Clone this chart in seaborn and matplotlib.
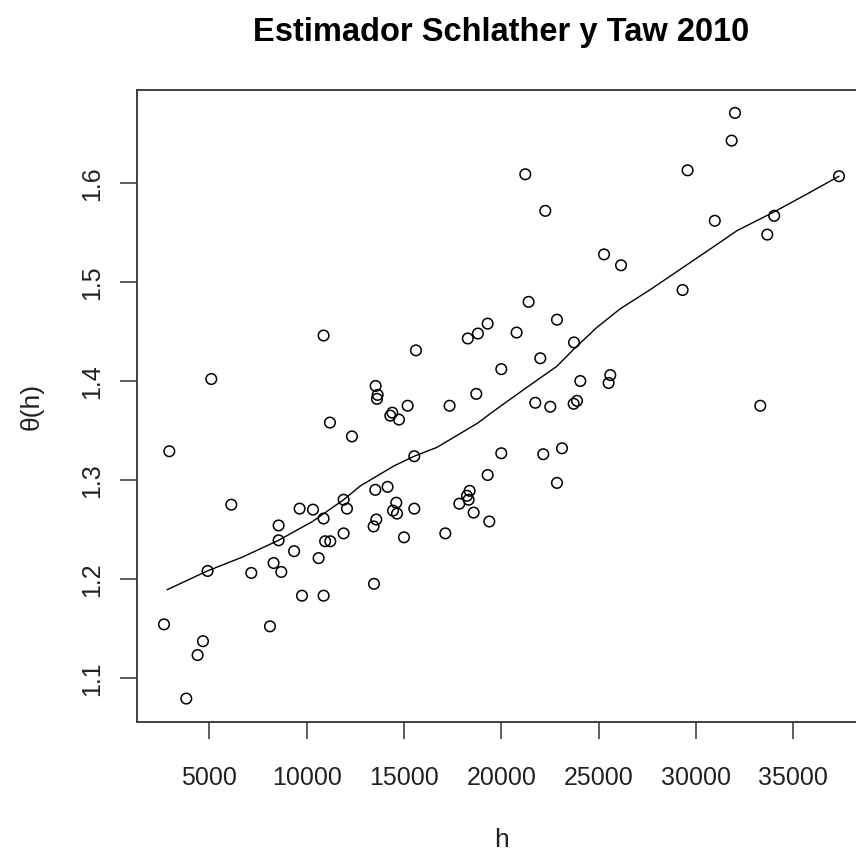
import matplotlib
matplotlib.use("Agg")
import matplotlib.pyplot as plt
import seaborn as sns
import pandas as pd

# Distance h and estimated extremal coefficient theta(h)
h = [2673, 2945, 3818, 4399, 4676, 4913, 5103, 6130, 7158, 8117,
     8303, 8561, 8561, 8699, 9356, 9639, 9762, 10327, 10615, 10872,
     10872, 10872, 10950, 11216, 11198, 11900, 12073, 11900, 12328, 13545,
     13649, 13614, 13528, 14160, 13579, 13440, 13461, 14401, 14298, 14745,
     15190, 14606, 14437, 14643, 15002, 15531, 15531, 15617, 17344, 17124,
     17843, 18373, 18236, 18322, 18580, 18716, 18280, 18800, 19300, 19300,
     19384, 20000, 20000, 20787, 21233, 21404, 21747, 22004, 22158, 22261,
     22518, 22860, 22860, 23119, 23736, 23718, 23890, 24059, 25278, 25514,
     25600, 26151, 29315, 29571, 30968, 31833, 32006, 33304, 33664, 34020,
     37349]
theta = [1.154, 1.329, 1.079, 1.123, 1.137, 1.208, 1.402, 1.275, 1.206, 1.152,
         1.216, 1.254, 1.239, 1.207, 1.228, 1.271, 1.183, 1.270, 1.221, 1.261,
         1.183, 1.446, 1.238, 1.238, 1.358, 1.280, 1.271, 1.246, 1.344, 1.395,
         1.386, 1.382, 1.290, 1.293, 1.260, 1.253, 1.195, 1.368, 1.365, 1.361,
         1.375, 1.277, 1.269, 1.266, 1.242, 1.271, 1.324, 1.431, 1.375, 1.246,
         1.276, 1.289, 1.284, 1.280, 1.267, 1.387, 1.443, 1.448, 1.458, 1.305,
         1.258, 1.412, 1.327, 1.449, 1.609, 1.480, 1.378, 1.423, 1.326, 1.572,
         1.374, 1.462, 1.297, 1.332, 1.439, 1.377, 1.380, 1.400, 1.528, 1.398,
         1.406, 1.517, 1.492, 1.613, 1.562, 1.643, 1.671, 1.375, 1.548, 1.567,
         1.607]

# Smoothed trend curve
smooth_h = [2830, 4900, 6700, 8560, 10300, 11900, 12760, 14470, 15530, 16700,
            18750, 19780, 21200, 22860, 23715, 24900, 26110, 27700, 29200,
            30700, 32110, 34020, 35700, 37350]
smooth_theta = [1.189, 1.208, 1.222, 1.239, 1.258, 1.280, 1.294, 1.314, 1.324,
                1.333, 1.357, 1.372, 1.392, 1.415, 1.432, 1.454, 1.473, 1.493,
                1.513, 1.533, 1.552, 1.571, 1.589, 1.607]

x_ticks = [5000, 10000, 15000, 20000, 25000, 30000, 35000]
y_ticks = [1.1, 1.2, 1.3, 1.4, 1.5, 1.6]

pts = pd.DataFrame({"h": h, "theta": theta})
trend = pd.DataFrame({"h": smooth_h, "theta": smooth_theta})

sns.set_style("white")
plt.rcParams["font.family"] = ["Liberation Sans", "DejaVu Sans"]

fig = plt.figure(figsize=(8.56, 8.54), dpi=100)
W, H = 856, 854
left, right, top, bottom = 137, 866, 90.5, 723
ax = fig.add_axes([left / W, (H - bottom) / H, (right - left) / W, (bottom - top) / H])

sns.scatterplot(data=pts, x="h", y="theta", ax=ax, marker="o", s=58,
                facecolor="none", edgecolor="black", linewidth=1.1, legend=False)
sns.lineplot(data=trend, x="h", y="theta", ax=ax, color="black", linewidth=1.0,
             sort=True, estimator=None)

# R-style 4% padding around the data range
xr = max(h) - min(h)
yr = max(theta) - min(theta)
ax.set_xlim(min(h) - 0.04 * xr, max(h) + 0.04 * xr)
ax.set_ylim(min(theta) - 0.04 * yr, max(theta) + 0.04 * yr)

ax.set_xticks(x_ticks)
ax.set_xticklabels([str(t) for t in x_ticks])
ax.set_yticks(y_ticks)
ax.set_yticklabels([f"{t:.1f}" for t in y_ticks], rotation=90, va="center")

for s in ax.spines.values():
    s.set_color("#333333")
    s.set_linewidth(1.3)
ax.tick_params(axis="both", direction="out", length=12, width=1.1, color="#333333",
               labelsize=18, labelcolor="#222222", bottom=True, left=True)
ax.tick_params(axis="x", pad=19)
ax.tick_params(axis="y", pad=12)

ax.set_xlabel("h", fontsize=19, color="#222222", labelpad=27)
ax.set_ylabel("θ(h)", fontsize=19, color="#222222", labelpad=26)
ax.set_title("Estimador Schlather y Taw 2010", fontsize=23.5, fontweight="bold",
             color="black", pad=36)

fig.savefig("out.png", dpi=100, facecolor="white")
